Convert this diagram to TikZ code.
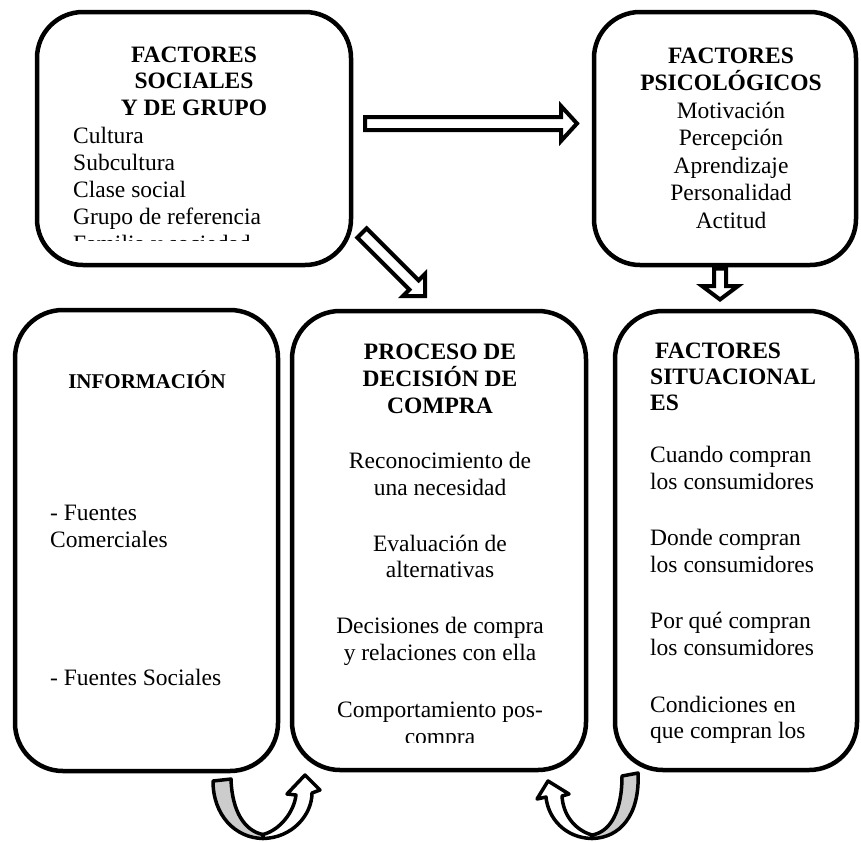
\documentclass[tikz,border=0pt]{standalone}
\usepackage{fontspec}
\setmainfont{Liberation Serif}
\begin{document}
\begin{tikzpicture}[x=1pt,y=-1pt,
  boxst/.style={draw, line width=4.5pt, rounded corners=46pt, inner sep=0pt, fill=white},
  ttl/.style={font=\fontsize{23.5}{27}\selectfont\bfseries, inner sep=0pt, anchor=base},
  bd/.style={font=\fontsize{23.5}{27}\selectfont, inner sep=0pt},
  barrow/.style={draw, line width=4pt, fill=white, line join=miter},
  uarrow/.style={draw, line width=3.5pt, line join=round},
  backband/.style={fill=black!20}
]
\useasboundingbox (0,0) rectangle (861,841);

% boxes
\node[boxst, minimum width=314pt, minimum height=253pt] (soc) at (194,138.5) {};
\node[boxst, minimum width=262pt, minimum height=253pt] (psy) at (725,138.5) {};
\node[boxst, minimum width=263pt, minimum height=461pt, rounded corners=48pt] (inf) at (146.5,540.5) {};
\node[boxst, minimum width=294pt, minimum height=459pt, rounded corners=48pt] (pro) at (439,540.5) {};
\node[boxst, minimum width=242pt, minimum height=459pt, rounded corners=48pt] (sit) at (736,540.5) {};

% --- social box text
\node[ttl] (socT1) at (194,62) {FACTORES};
\node[ttl] (socT2) at (194,88.5) {SOCIALES};
\node[ttl] (socT3) at (194,115) {Y DE GRUPO};
\foreach \t [count=\i] in {Cultura,Subcultura,Clase social,Grupo de referencia}
  \node[bd, anchor=base west] (socB\i) at (73,{116+27*\i}) {\t};
\begin{scope}
  \clip (40,200) rectangle (350,240.5);
  \node[bd, anchor=base west] (socB5) at (73,251) {Familia y sociedad};
\end{scope}

% --- psychological box text
\node[ttl] (psyT1) at (731,63) {FACTORES};
\node[ttl] (psyT2) at (731,90.5) {PSICOLÓGICOS};
\foreach \t [count=\i] in {Motivación,Percepción,Aprendizaje,Personalidad,Actitud}
  \node[bd, anchor=base] (psyB\i) at (731,{90.5+27.5*\i}) {\t};

% --- information box text
\node[ttl, font=\fontsize{21}{25}\selectfont\bfseries] (infT) at (147,388) {INFORMACIÓN};
\node[bd, anchor=base west] (infB1) at (50,520) {- Fuentes};
\node[bd, anchor=base west] (infB2) at (50,547) {Comerciales};
\node[bd, anchor=base west] (infB3) at (50,685) {- Fuentes Sociales};

% --- process box text
\node[ttl] (proT1) at (440,359) {PROCESO DE};
\node[ttl] (proT2) at (440,386) {DECISIÓN DE};
\node[ttl] (proT3) at (440,413) {COMPRA};
\foreach \t/\y [count=\i] in {Reconocimiento de/468, una necesidad/495, Evaluación de/551, alternativas/577.5, Decisiones de compra/633, y relaciones con ella/660, Comportamiento pos-/717}
  \node[bd, anchor=base] (proB\i) at (440,\y) {\t};
\begin{scope}
  \clip (300,725) rectangle (580,742);
  \node[bd, anchor=base] (proB8) at (440,744) {compra};
\end{scope}

% --- situational box text
\node[ttl, anchor=base west] (sitT1) at (655,358) {FACTORES};
\node[ttl, anchor=base west] (sitT2) at (650,384) {SITUACIONAL};
\node[ttl, anchor=base west] (sitT3) at (650,410) {ES};
\foreach \t/\y [count=\i] in {Cuando compran/462, los consumidores/489, Donde compran/545, los consumidores/572, Por qué compran/628.5, los consumidores/655, Condiciones en/712, que compran los/738.5}
  \node[bd, anchor=base west] (sitB\i) at (650,\y) {\t};

% --- block arrows
\draw[barrow] (365,117) -- (561,117) -- (561,106) -- (577,123.5) -- (561,141) -- (561,130) -- (365,130) -- cycle;
\draw[barrow] (357.4,237.6) -- (366.6,228.4) -- (418.6,280.4) -- (425,274) -- (425,296) -- (403,296) -- (409.4,289.6) -- cycle;
\draw[barrow] (714,268.5) -- (726,268.5) -- (726,286) -- (738,286) -- (720,299.5) -- (702,286) -- (714,286) -- cycle;

% --- U-turn arrows, left
\draw[uarrow, backband] (213,781) -- (231,779) .. controls (232,812) and (245,831) .. (263,834.5) -- (263,838.5) .. controls (235,838) and (213,815) .. (213,781) -- cycle;
\draw[uarrow, fill=white] (263,834.5) .. controls (280,830) and (294,812) .. (296,795) -- (287,794) -- (305,775) -- (320,790) -- (312,793) .. controls (312,815) and (292,838) .. (263,838.5) -- cycle;

% --- U-turn arrows, right
\draw[uarrow, backband] (638,773) -- (622,776) .. controls (622,812) and (610,832) .. (592,835) -- (592,838.5) .. controls (620,838) and (640,815) .. (638,773) -- cycle;
\draw[uarrow, fill=white] (592,835) .. controls (575,830) and (563,815) .. (562,796) -- (569,794) -- (548,781) -- (537,799) -- (546,797) .. controls (548,818) and (565,838) .. (592,838.5) -- cycle;
\end{tikzpicture}
\end{document}
